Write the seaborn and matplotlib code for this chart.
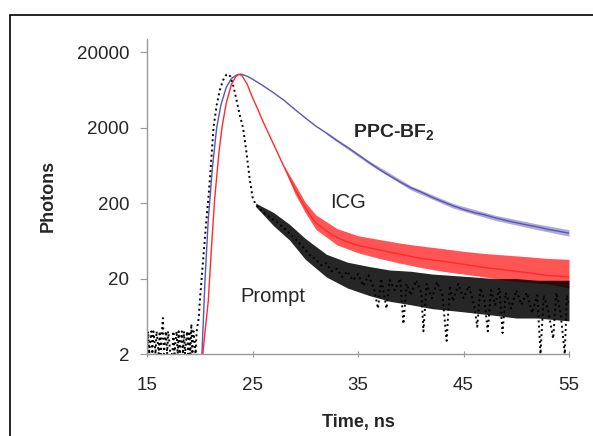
import numpy as np
import pandas as pd
import seaborn as sns
import matplotlib.pyplot as plt
from matplotlib.patches import Rectangle

# Prompt (instrument response)
prompt_t = [15.0, 15.1, 15.2, 15.3, 15.4, 15.5, 15.6, 15.7, 15.8, 15.9, 16.0, 16.1, 16.2, 16.3,
            16.4, 16.5, 16.6, 16.7, 16.8, 16.9, 17.0, 17.1, 17.2, 17.3, 17.4, 17.5, 17.6, 17.7,
            17.8, 17.9, 18.0, 18.1, 18.2, 18.3, 18.4, 18.5, 18.6, 18.7, 18.8, 18.9, 19.0, 19.1,
            19.2, 19.3, 19.4, 19.5, 19.6, 19.7,
            19.9, 20.0, 20.2, 20.4, 20.6, 20.8, 21.0, 21.3, 21.6, 21.9, 22.2, 22.5, 22.7, 22.9,
            23.2, 23.5, 23.8, 24.1, 24.4, 24.7, 25.0, 25.3, 25.7, 26.0, 26.5, 27.0, 27.5, 28.0,
            28.5, 29.0, 29.5,
            30.0, 30.5, 31.0, 31.5, 32.0, 32.5, 33.0, 33.5, 34.0, 34.5, 35.0, 35.5, 36.0, 36.5,
            36.9, 37.2, 37.7, 38.0, 38.5, 39.0, 39.3, 39.6, 40.0, 40.5, 41.0, 41.2, 41.5, 42.0,
            42.5, 43.0, 43.4, 43.7, 44.0, 44.5, 45.0, 45.5, 46.0, 46.3, 46.6, 47.0, 47.3, 47.6,
            48.0, 48.4, 48.7, 49.0, 49.5, 50.0, 50.5, 51.0, 51.5, 52.0, 52.3, 52.6, 53.0, 53.5,
            53.8, 54.2, 54.6, 54.8, 55.0]
prompt_v = [2, 4, 2, 3, 4, 2, 4, 3, 2, 4, 3, 2, 4, 2,
            4, 6, 2, 3, 4, 2, 4, 3, 2, 2, 2, 4, 2, 3,
            4, 2, 4, 2, 3, 4, 2, 4, 2, 3, 4, 2, 4, 2,
            5, 2, 4, 3, 2, 4,
            6, 10, 22, 50, 110, 220, 500, 2000, 4000, 6300, 8500, 10000, 10300, 9500,
            7000, 4500, 2900, 2000, 1000, 450, 240, 190, 170, 150, 135, 120, 108, 92,
            80, 68, 58,
            48, 40, 36, 30, 32, 25, 27, 21, 25, 19, 23, 16, 22, 15,
            8, 20, 8, 19, 14, 20, 5, 17, 12, 19, 13, 4, 17, 11,
            18, 12, 3, 16, 10, 17, 11, 16, 9, 4.6, 15, 10, 4, 14,
            9, 15, 3.8, 13, 8, 14, 9, 13, 7, 12, 2, 12, 8, 3.2,
            13, 7, 2, 12, 9]

# ICG
icg_t = [20.2, 20.5, 20.8, 21.1, 21.4, 21.8, 22.1, 22.5, 23.0, 23.4, 23.7, 24.0, 24.5, 25.0,
         25.5, 26.0, 26.5, 27.0, 27.5, 28.0, 28.5, 29.0, 29.5, 30.0, 30.5, 31.0, 32, 33, 34,
         35, 37, 39, 41, 43, 45, 47, 49, 51, 53, 55]
icg_v = [1.5, 4, 10, 50, 220, 900, 2000, 4200, 7500, 9500, 10200, 9800, 7500, 5000,
         3500, 2400, 1700, 1200, 850, 600, 430, 310, 230, 175, 135, 110, 85, 70, 61,
         55, 48, 42, 37, 34, 31, 28, 26, 24, 22, 21]

# PPC-BF2
ppc_t = [20.1, 20.2, 20.5, 20.8, 21.2, 21.6, 22.0, 22.5, 23.0, 23.5, 23.9, 24.5, 25, 26, 27,
         28, 29, 30, 31, 32, 33, 34, 35, 36, 37, 38, 39, 40, 41, 42, 43, 44, 45, 46, 47, 48,
         49, 50, 51, 52, 53, 54, 55]
ppc_v = [1.5, 2, 20, 120, 600, 2000, 4000, 6800, 9000, 10000, 10300, 9600, 8800, 7200, 5800,
         4600, 3500, 2700, 2100, 1700, 1350, 1100, 880, 700, 560, 460, 380, 320, 280, 240,
         210, 185, 165, 150, 140, 128, 118, 110, 103, 97, 90, 85, 80]

# noise envelopes of the tails
prompt_band_t = [25.3, 27, 28.5, 30, 32, 34, 36, 38, 40, 42, 44, 46, 48, 50, 52, 55]
prompt_hi = [200, 150, 105, 68, 42, 33, 29, 26, 25, 23, 22, 21, 20, 20, 19, 19]
prompt_lo = [180, 100, 65, 36, 21, 15, 12, 10, 9, 8, 7.5, 7, 6.5, 6, 6, 5.5]

icg_band_t = [28, 29, 30, 31, 33, 35, 37, 39, 41, 43, 45, 47, 49, 51, 53, 55]
icg_hi = [620, 360, 205, 140, 92, 74, 66, 59, 54, 50, 46, 43, 41, 39, 37, 36]
icg_lo = [580, 270, 150, 90, 56, 44, 37, 32, 28, 25, 23, 21, 19, 18, 17, 15]

ppc_band_t = [32, 36, 40, 44, 48, 52, 55]
ppc_hi = [1760, 735, 340, 198, 138, 106, 89]
ppc_lo = [1640, 665, 300, 172, 118, 89, 73]

x_ticks = [15, 25, 35, 45, 55]
y_ticks = [2, 20, 200, 2000, 20000]

RED = '#ff2a2a'
BLUE = '#5a55b5'

sns.set_style('white')
plt.rcParams['font.family'] = ['Liberation Sans', 'DejaVu Sans']
plt.rcParams['mathtext.default'] = 'regular'

fig = plt.figure(figsize=(5.93, 4.36), dpi=100)
ax = fig.add_axes([0.248, 0.188, 0.7115, 0.7226])

# noise bands
ax.fill_between(ppc_band_t, ppc_lo, ppc_hi, color=BLUE, alpha=0.5, lw=0)
ax.fill_between(icg_band_t, icg_lo, icg_hi, color=RED, alpha=0.8, lw=0)
ax.fill_between(prompt_band_t, prompt_lo, prompt_hi, color='black', alpha=0.85, lw=0)

df_ppc = pd.DataFrame({'t': ppc_t, 'v': ppc_v})
df_icg = pd.DataFrame({'t': icg_t, 'v': icg_v})
df_prompt = pd.DataFrame({'t': prompt_t, 'v': prompt_v})

sns.lineplot(data=df_ppc, x='t', y='v', ax=ax, color=BLUE, lw=1.0)
sns.lineplot(data=df_icg, x='t', y='v', ax=ax, color=RED, lw=1.0)
sns.lineplot(data=df_prompt, x='t', y='v', ax=ax, color='black', lw=1.4, linestyle=':')

ax.set_yscale('log')
ax.set_xlim(15, 55)
ax.set_ylim(2, 30000)
ax.set_xticks(x_ticks)
ax.set_xticklabels([str(v) for v in x_ticks])
ax.set_yticks(y_ticks)
ax.set_yticklabels([str(v) for v in y_ticks])
ax.minorticks_off()
ax.yaxis.set_minor_locator(plt.NullLocator())

for s in ['top', 'right']:
    ax.spines[s].set_visible(False)
for s in ['left', 'bottom']:
    ax.spines[s].set_color('#999999')
    ax.spines[s].set_linewidth(1.0)

ax.tick_params(axis='y', direction='out', length=5, width=0.8, color='#999999',
               labelsize=13.5, pad=8, left=True)
ax.tick_params(axis='x', direction='inout', length=5, width=0.8, color='#999999',
               labelsize=13.5, pad=14, bottom=True)

ax.set_ylabel('Photons', fontsize=13, fontweight='bold', va='center')
ax.yaxis.set_label_coords(-0.2346, 0.5016)
ax.set_xlabel('Time, ns', fontsize=13, fontweight='bold', va='center')
ax.xaxis.set_label_coords(0.502, -0.216)

ax.text(34.5, 1745, 'PPC-BF$_2$', fontsize=14, fontweight='bold', va='center')
ax.text(32.35, 206, 'ICG', fontsize=14.5, va='center')
ax.text(23.8, 11.7, 'Prompt', fontsize=14.5, va='center')

# frame around the figure (cut on right and bottom as in the source)
fig.add_artist(Rectangle((10 / 593, -0.1), 1.2, 1.1 - 15.5 / 436, transform=fig.transFigure,
                         fill=False, ec='black', lw=1.2, clip_on=False))

fig.savefig('out.png', dpi=100)
